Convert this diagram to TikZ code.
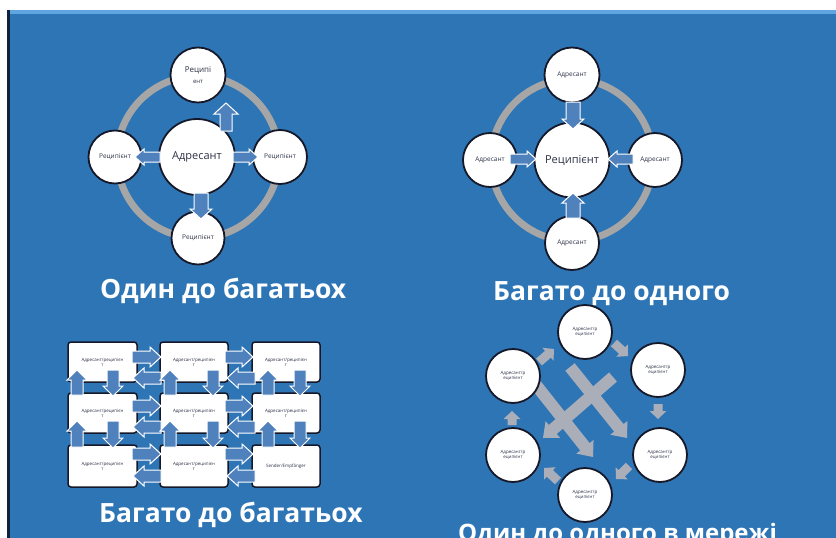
\documentclass[tikz,border=0pt]{standalone}
\usepackage{fontspec}
\setmainfont{Open Sans}
\usetikzlibrary{calc,shadows}
\definecolor{bgc}{RGB}{46,117,182}
\definecolor{topc}{RGB}{95,165,225}
\definecolor{leftc}{RGB}{15,35,60}
\definecolor{edgec}{RGB}{20,24,40}
\definecolor{txtc}{RGB}{45,50,70}
\definecolor{arrb}{RGB}{79,129,189}
\definecolor{arrg}{RGB}{170,174,184}
\definecolor{ringc}{RGB}{166,166,166}
\newcommand\barrow[7]{%
  \coordinate (#2s) at (#3); \coordinate (#2e) at (#4);
  \coordinate (#2b) at ($(#2e)!#7!(#2s)$);
  \filldraw[#1] ($(#2s)!#5!90:(#2e)$) -- ($(#2b)!#5!90:(#2e)$) -- ($(#2b)!#6!90:(#2e)$) -- (#2e)
     -- ($(#2b)!#6!-90:(#2e)$) -- ($(#2b)!#5!-90:(#2e)$) -- ($(#2s)!#5!-90:(#2e)$) -- cycle;}
\tikzset{
  bub/.style={circle, draw=edgec, line width=1.8pt, fill=white, inner sep=0pt, align=center,
    text=txtc, minimum size=#1, drop shadow={opacity=0.35, shadow xshift=1pt, shadow yshift=-1pt}},
  gbox/.style={rectangle, rounded corners=3pt, draw=edgec, line width=1.5pt, fill=white,
    minimum width=69pt, minimum height=40pt, align=center, text=txtc,
    font=\fontsize{4.5}{5}\selectfont, drop shadow={opacity=0.35, shadow xshift=1pt, shadow yshift=-1pt}},
  ab/.style={fill=arrb, draw=white, line width=1pt, line join=miter},
  ag/.style={fill=arrg, draw=none},
  ring/.style={draw=ringc, line width=7pt},
  ttl/.style={text=white, font=\bfseries\fontsize{26.5}{30}\selectfont, anchor=base west, inner sep=0pt},
  sm/.style={font=\fontsize{6.5}{7.5}\selectfont},
  xs/.style={font=\fontsize{4.5}{5.5}\selectfont}
}
\begin{document}
\begin{tikzpicture}[x=1pt,y=-1pt]
\useasboundingbox (0,0) rectangle (836,538);
\fill[white] (0,0) rectangle (836,538);
\fill[bgc] (7,10) rectangle (836,538);
\fill[topc] (7,10) rectangle (836,14);
\fill[leftc] (7,10) rectangle (10,538);
% ---------- Panel 1: Один до багатьох
\draw[ring] (198,157) circle (81);
\node[bub=76pt, font=\fontsize{11}{12}\selectfont] (p1c) at (197,157) {Адресант};
\node[bub=55pt] (p1t) at (198,75) {{\fontsize{8}{8}\selectfont Реципі}\\[-1pt]{\fontsize{6}{6}\selectfont ент}};
\node[bub=53pt, sm] (p1l) at (115,157) {Реципієнт};
\node[bub=54pt, sm] (p1r) at (280,157) {Реципієнт};
\node[bub=53pt, sm] (p1b) at (198,238) {Реципієнт};
\barrow{ab}{a1u}{226,131}{226,103}{6pt}{12pt}{11pt}
\barrow{ab}{a1r}{233,157}{258,157}{5pt}{8pt}{9pt}
\barrow{ab}{a1l}{160,157}{135,157}{5pt}{8pt}{9pt}
\barrow{ab}{a1d}{201,193}{201,219}{7pt}{11pt}{10pt}
\node[ttl] (t1) at (100,298) {Один до багатьох};
% ---------- Panel 2: Багато до одного
\draw[ring] (572,160) circle (81);
\node[bub=75pt, font=\fontsize{11}{12}\selectfont] (p2c) at (572,160) {Реципієнт};
\node[bub=55pt, sm] (p2t) at (572,75) {Адресант};
\node[bub=54pt, sm] (p2l) at (490,160) {Адресант};
\node[bub=54pt, sm] (p2r) at (655,160) {Адресант};
\node[bub=54pt, sm] (p2b) at (572,243) {Адресант};
\barrow{ab}{a2d}{573,102}{573,129}{7pt}{11pt}{10pt}
\barrow{ab}{a2r}{510,159}{536,159}{5pt}{8pt}{9pt}
\barrow{ab}{a2l}{633,159}{608,159}{5pt}{8pt}{9pt}
\barrow{ab}{a2u}{573,218}{573,193}{7pt}{11pt}{10pt}
\node[ttl] (t2) at (493,300) {Багато до одного};
% ---------- Panel 3: Багато до багатьох
\foreach \r/\y in {1/362,2/413} {
  \node[gbox] (g\r1) at (102.5,\y) {Адресант/реципієн\\т};
  \node[gbox, minimum width=68pt] (g\r2) at (194,\y) {Адресант/реципієн\\т};
  \node[gbox, minimum width=68pt] (g\r3) at (286,\y) {Адресант/реципієн\\т};
}
\node[gbox, minimum height=42pt] (g31) at (102.5,466) {Адресант/реципієн\\т};
\node[gbox, minimum width=68pt, minimum height=42pt] (g32) at (194,466) {Адресант/реципієн\\т};
\node[gbox, minimum width=68pt, minimum height=42pt] (g33) at (286,466) {Sender/Empfänger};
% horizontal arrows
\foreach \yr/\yl [count=\i] in {357/378, 406/427, 454/476} {
  \barrow{ab}{h\i a}{132,\yr}{161,\yr}{6pt}{10pt}{11pt}
  \barrow{ab}{h\i b}{161,\yl}{133,\yl}{6pt}{10pt}{11pt}
  \barrow{ab}{h\i c}{225,\yr}{253,\yr}{6pt}{10pt}{11pt}
  \barrow{ab}{h\i d}{255,\yl}{227,\yl}{6pt}{10pt}{11pt}
}
% vertical arrows
\foreach \xu/\xd [count=\j] in {77/113, 170/213, 268/300} {
  \barrow{ab}{u\j a}{\xu,395}{\xu,370}{6pt}{10pt}{10pt}
  \barrow{ab}{d\j a}{\xd,370}{\xd,396}{6pt}{10pt}{10pt}
  \barrow{ab}{u\j b}{\xu,447}{\xu,421}{6pt}{10pt}{10pt}
  \barrow{ab}{d\j b}{\xd,421}{\xd,448}{6pt}{10pt}{10pt}
}
\node[ttl] (t3) at (99,522) {Багато до багатьох};
% ---------- Panel 4: Один до одного в мережі
\barrow{ag}{l1}{536,385}{593,457}{6pt}{11pt}{13pt}
\barrow{ag}{l2}{570,367}{627,438}{6pt}{11pt}{13pt}
\barrow{ag}{l3}{613,377}{543,438}{6pt}{11pt}{13pt}
\barrow{ag}{s1}{539,362}{554,349}{4.5pt}{8.5pt}{8pt}
\barrow{ag}{s2}{614,343}{628,356}{4.5pt}{8.5pt}{8pt}
\barrow{ag}{s3}{658,404}{658,419}{4.5pt}{8.5pt}{8pt}
\barrow{ag}{s4}{629,466}{616,479}{4.5pt}{8.5pt}{8pt}
\barrow{ag}{s5}{558,481}{544,468}{4.5pt}{8.5pt}{8pt}
\barrow{ag}{s6}{512,425}{512,411}{4.5pt}{8.5pt}{8pt}
\node[bub=54pt, xs] (n1) at (585,332) {Адресант/р\\еципієнт};
\node[bub=54pt, xs] (n2) at (658,370) {Адресант/р\\еципієнт};
\node[bub=54pt, xs] (n3) at (660,455) {Адресант/р\\еципієнт};
\node[bub=54pt, xs] (n4) at (585,495) {Адресант/р\\еципієнт};
\node[bub=54pt, xs] (n5) at (513,455) {Адресант/р\\еципієнт};
\node[bub=54pt, xs] (n6) at (513,376) {Адресант/р\\еципієнт};
\node[ttl, font=\bfseries\fontsize{24}{28}\selectfont] (t4) at (458,541) {Один до одного в мережі};
\end{tikzpicture}
\end{document}
